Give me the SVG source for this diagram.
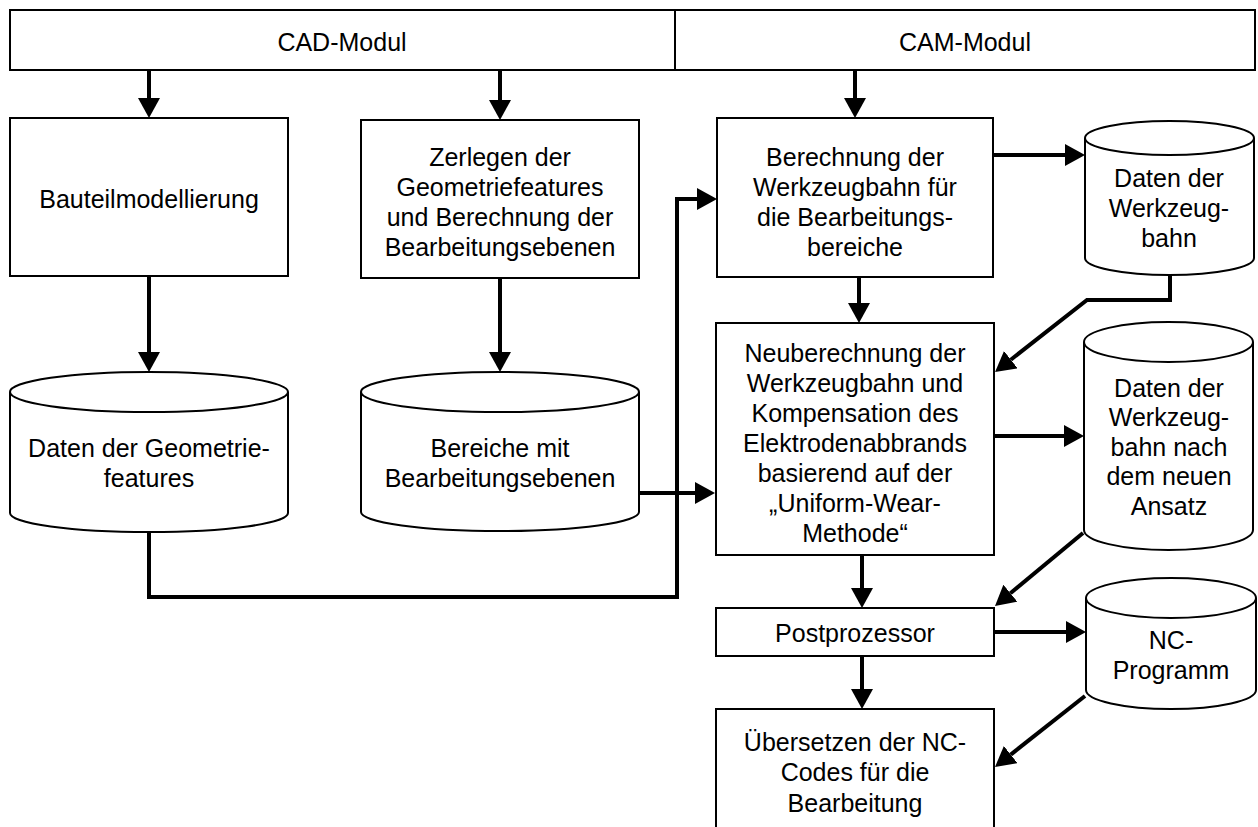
<svg xmlns="http://www.w3.org/2000/svg" width="1258" height="827" viewBox="0 0 1258 827">
<defs>
<style>
.box{fill:#fff;stroke:#000;stroke-width:2}
.cyl{fill:#fff;stroke:#000;stroke-width:2}
.con{fill:none;stroke:#000;stroke-width:4}
text{font-family:"Liberation Sans",Arial,sans-serif;font-size:25px;fill:#000;text-anchor:middle}
</style>
<marker id="ah" viewBox="0 0 20 22" refX="0" refY="11" markerWidth="20" markerHeight="22" markerUnits="userSpaceOnUse" orient="auto">
<path d="M0,0 L20,11 L0,22 z" fill="#000"/>
</marker>
</defs>
<rect width="1258" height="827" fill="#fff"/>

<g id="cad-modul">
<rect class="box" x="10" y="10" width="665" height="60"/>
<text x="342" y="51">CAD-Modul</text>
</g>
<g id="cam-modul">
<rect class="box" x="675" y="10" width="580" height="60"/>
<text x="965" y="51">CAM-Modul</text>
</g>

<g id="bauteil">
<rect class="box" x="10" y="118" width="278" height="158"/>
<text x="149" y="208">Bauteilmodellierung</text>
</g>

<g id="zerlegen">
<rect class="box" x="361" y="120" width="278" height="158"/>
<text x="500" y="166">Zerlegen der</text>
<text x="500" y="196">Geometriefeatures</text>
<text x="500" y="226">und Berechnung der</text>
<text x="500" y="256">Bearbeitungsebenen</text>
</g>

<g id="berechnung">
<rect class="box" x="717" y="118" width="276" height="159"/>
<text x="855" y="166">Berechnung der</text>
<text x="855" y="196">Werkzeugbahn für</text>
<text x="855" y="226">die Bearbeitungs-</text>
<text x="855" y="256">bereiche</text>
</g>

<g id="daten-geometrie">
<path class="cyl" d="M10,392 A139,20 0 0 1 288,392 V513 A139,19 0 0 1 10,513 Z"/>
<path class="cyl" fill="none" d="M10,392 A139,20 0 0 0 288,392"/>
<text x="149" y="457">Daten der Geometrie-</text>
<text x="149" y="487">features</text>
</g>

<g id="bereiche">
<path class="cyl" d="M361,392 A139,20 0 0 1 639,392 V512 A139,19 0 0 1 361,512 Z"/>
<path class="cyl" fill="none" d="M361,392 A139,20 0 0 0 639,392"/>
<text x="500" y="457">Bereiche mit</text>
<text x="500" y="487">Bearbeitungsebenen</text>
</g>

<g id="daten-werkzeugbahn">
<path class="cyl" d="M1085,138 A84.5,17 0 0 1 1254,138 V258 A84.5,17 0 0 1 1085,258 Z"/>
<path class="cyl" fill="none" d="M1085,138 A84.5,17 0 0 0 1254,138"/>
<text x="1169" y="187">Daten der</text>
<text x="1169" y="217">Werkzeug-</text>
<text x="1169" y="247">bahn</text>
</g>

<g id="neuberechnung">
<rect class="box" x="716" y="323" width="278" height="232"/>
<text x="855" y="362">Neuberechnung der</text>
<text x="855" y="392">Werkzeugbahn und</text>
<text x="855" y="422">Kompensation des</text>
<text x="855" y="452">Elektrodenabbrands</text>
<text x="855" y="482">basierend auf der</text>
<text x="855" y="512">„Uniform-Wear-</text>
<text x="855" y="542">Methode“</text>
</g>

<g id="daten-neu">
<path class="cyl" d="M1084,342 A84.5,20 0 0 1 1253,342 V530 A84.5,20 0 0 1 1084,530 Z"/>
<path class="cyl" fill="none" d="M1084,342 A84.5,20 0 0 0 1253,342"/>
<text x="1169" y="397">Daten der</text>
<text x="1169" y="426">Werkzeug-</text>
<text x="1169" y="456">bahn nach</text>
<text x="1169" y="485">dem neuen</text>
<text x="1169" y="515">Ansatz</text>
</g>

<g id="postprozessor">
<rect class="box" x="716" y="608" width="278" height="48"/>
<text x="855" y="642">Postprozessor</text>
</g>

<g id="nc-programm">
<path class="cyl" d="M1086,598 A85,20 0 0 1 1256,598 V690 A85,19 0 0 1 1086,690 Z"/>
<path class="cyl" fill="none" d="M1086,598 A85,20 0 0 0 1256,598"/>
<text x="1171" y="649">NC-</text>
<text x="1171" y="679">Programm</text>
</g>

<g id="uebersetzen">
<rect class="box" x="716" y="709" width="278" height="130"/>
<text x="855" y="751">Übersetzen der NC-</text>
<text x="855" y="781">Codes für die</text>
<text x="855" y="812">Bearbeitung</text>
</g>

<g id="connectors">
<path class="con" marker-end="url(#ah)" d="M149,70 V98"/>
<path class="con" marker-end="url(#ah)" d="M500,70 V100"/>
<path class="con" marker-end="url(#ah)" d="M855,70 V98"/>
<path class="con" marker-end="url(#ah)" d="M149,276 V352"/>
<path class="con" marker-end="url(#ah)" d="M500,278 V352"/>
<path class="con" marker-end="url(#ah)" d="M859,277 V303"/>
<path class="con" marker-end="url(#ah)" d="M862,555 V588"/>
<path class="con" marker-end="url(#ah)" d="M862,656 V689"/>
<path class="con" marker-end="url(#ah)" d="M993,155 H1065"/>
<path class="con" marker-end="url(#ah)" d="M639,493 H695"/>
<path class="con" marker-end="url(#ah)" d="M994,436 H1064"/>
<path class="con" marker-end="url(#ah)" d="M994,632 H1066"/>
<path class="con" marker-end="url(#ah)" d="M149,532 V597 H677 V199 H697"/>
<path class="con" marker-end="url(#ah)" d="M1170,275 V300 H1087 L1010.8,359.7"/>
<path class="con" marker-end="url(#ah)" d="M1083,533 L1010.4,593.2"/>
<path class="con" marker-end="url(#ah)" d="M1085,696 L1010.7,754.6"/>
</g>
</svg>
